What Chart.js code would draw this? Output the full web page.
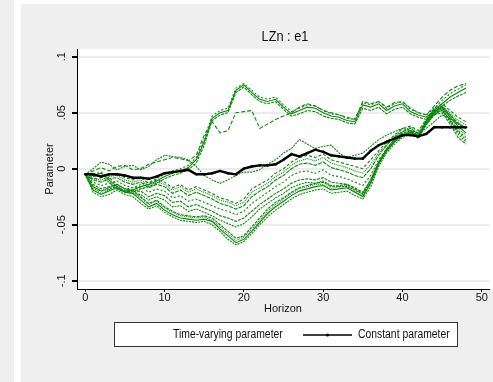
<!DOCTYPE html>
<html>
<head>
<meta charset="utf-8">
<script src="https://cdn.jsdelivr.net/npm/chart.js@4.4.1/dist/chart.umd.min.js"></script>
<style>
  html, body { margin: 0; padding: 0; background: #fff; }
  #wrap { width: 493px; height: 382px; }
</style>
</head>
<body>
<div id="wrap"><canvas id="c" width="493" height="382"></canvas></div>
<script>
// horizon (x) and tick labels
const horizon = [0,1,2,3,4,5,6,7,8,9,10,11,12,13,14,15,16,17,18,19,20,21,22,23,24,25,26,27,28,29,30,31,32,33,34,35,36,37,38,39,40,41,42,43,44,45,46,47,48];
const xTicks = [0, 10, 20, 30, 40, 50];
const yTicks = [-0.1, -0.05, 0, 0.05, 0.1];
const yTickLabels = ['-.1', '-.05', '0', '.05', '.1'];

// constant parameter (black)
const constantParam = [-0.005,-0.005,-0.007,-0.005,-0.005,-0.006,-0.008,-0.008,-0.009,-0.007,-0.004,-0.003,-0.002,-0.001,-0.005,-0.005,-0.004,-0.002,-0.004,-0.005,0.000,0.002,0.003,0.003,0.004,0.008,0.013,0.011,0.014,0.017,0.015,0.012,0.011,0.010,0.009,0.009,0.016,0.021,0.024,0.027,0.030,0.030,0.029,0.031,0.037,0.037,0.037,0.037,0.037];

// time-varying parameter (green), one array per estimation window
const tvpHigh1 = [-0.005,-0.006,-0.004,-0.010,-0.016,-0.020,-0.019,-0.016,-0.014,-0.011,-0.007,-0.004,-0.002,0.001,0.008,0.024,0.045,0.050,0.052,0.070,0.075,0.068,0.062,0.060,0.062,0.055,0.049,0.052,0.055,0.054,0.050,0.047,0.046,0.043,0.042,0.057,0.055,0.058,0.052,0.056,0.058,0.051,0.048,0.046,0.052,0.058,0.064,0.068,0.072];
const tvpHigh2 = [-0.005,-0.007,-0.006,-0.012,-0.018,-0.021,-0.020,-0.018,-0.016,-0.013,-0.009,-0.006,-0.004,-0.001,0.005,0.021,0.043,0.048,0.050,0.068,0.073,0.066,0.060,0.058,0.060,0.053,0.047,0.049,0.052,0.051,0.047,0.045,0.044,0.041,0.040,0.054,0.052,0.055,0.049,0.053,0.055,0.049,0.046,0.044,0.050,0.056,0.061,0.065,0.068];
const tvpHigh3 = [-0.005,-0.005,-0.003,-0.008,-0.014,-0.018,-0.017,-0.014,-0.012,-0.009,-0.005,-0.002,0.000,0.003,0.010,0.027,0.047,0.052,0.054,0.072,0.076,0.070,0.064,0.062,0.064,0.057,0.051,0.054,0.057,0.056,0.052,0.049,0.048,0.045,0.044,0.059,0.057,0.060,0.054,0.058,0.060,0.053,0.050,0.048,0.054,0.061,0.067,0.071,0.075];
const tvpHigh4 = [-0.005,-0.002,0.001,-0.002,0.002,0.003,-0.001,0.000,0.004,0.006,0.008,0.010,0.009,0.007,0.012,0.030,0.042,0.032,0.034,0.050,0.051,0.052,0.036,0.040,0.044,0.047,0.050,0.055,0.058,0.056,0.052,0.050,0.048,0.046,0.044,0.060,0.058,0.060,0.055,0.059,0.060,0.054,0.050,0.048,0.056,0.064,0.070,0.074,0.076];
const tvpNear = [-0.005,0.000,0.006,0.004,-0.001,0.002,0.003,-0.001,0.002,0.008,0.012,0.011,0.010,0.008,0.002,-0.006,-0.010,-0.013,-0.010,-0.006,-0.003,-0.003,-0.001,0.004,0.008,0.014,0.018,0.026,0.022,0.018,0.020,0.021,0.014,0.010,0.012,0.014,0.020,0.026,0.030,0.033,0.036,0.034,0.032,0.036,0.042,0.048,0.045,0.040,0.036];
const tvpMid1 = [-0.005,-0.009,-0.008,-0.005,-0.004,-0.008,-0.010,-0.008,-0.013,-0.010,-0.012,-0.017,-0.014,-0.019,-0.016,-0.019,-0.022,-0.026,-0.028,-0.031,-0.027,-0.018,-0.014,-0.010,-0.004,0.000,0.006,0.010,0.012,0.010,0.013,0.008,0.006,0.004,0.002,0.000,0.008,0.016,0.024,0.030,0.036,0.038,0.034,0.044,0.054,0.058,0.052,0.046,0.042];
const tvpMid6 = [-0.005,-0.009,-0.010,-0.007,-0.006,-0.010,-0.012,-0.010,-0.015,-0.012,-0.014,-0.019,-0.016,-0.021,-0.018,-0.021,-0.024,-0.028,-0.030,-0.033,-0.030,-0.021,-0.017,-0.013,-0.007,-0.003,0.003,0.007,0.009,0.007,0.010,0.005,0.003,0.001,-0.002,-0.004,0.004,0.014,0.022,0.029,0.034,0.037,0.032,0.043,0.053,0.056,0.050,0.043,0.039];
const tvpMid2 = [-0.005,-0.010,-0.012,-0.009,-0.008,-0.012,-0.014,-0.012,-0.017,-0.014,-0.016,-0.022,-0.019,-0.024,-0.021,-0.024,-0.027,-0.031,-0.033,-0.036,-0.033,-0.025,-0.020,-0.016,-0.010,-0.006,0.000,0.004,0.005,0.003,0.006,0.001,-0.001,-0.003,-0.006,-0.008,0.000,0.012,0.021,0.028,0.033,0.036,0.031,0.043,0.052,0.054,0.048,0.040,0.036];
const tvpMid3 = [-0.005,-0.012,-0.015,-0.013,-0.011,-0.015,-0.017,-0.016,-0.021,-0.018,-0.020,-0.026,-0.024,-0.029,-0.027,-0.030,-0.033,-0.036,-0.038,-0.041,-0.038,-0.031,-0.026,-0.021,-0.016,-0.012,-0.006,-0.003,-0.002,-0.004,-0.001,-0.006,-0.007,-0.009,-0.012,-0.015,-0.006,0.008,0.018,0.026,0.031,0.034,0.029,0.042,0.050,0.052,0.044,0.034,0.028];
const tvpMid4 = [-0.005,-0.014,-0.018,-0.016,-0.014,-0.018,-0.020,-0.020,-0.025,-0.022,-0.024,-0.030,-0.029,-0.034,-0.032,-0.035,-0.038,-0.042,-0.044,-0.047,-0.044,-0.038,-0.032,-0.027,-0.022,-0.018,-0.013,-0.010,-0.009,-0.010,-0.008,-0.012,-0.013,-0.014,-0.017,-0.021,-0.010,0.006,0.017,0.025,0.030,0.032,0.028,0.040,0.048,0.050,0.040,0.028,0.022];
const tvpMid5 = [-0.005,-0.016,-0.020,-0.018,-0.016,-0.020,-0.022,-0.023,-0.028,-0.025,-0.028,-0.034,-0.033,-0.038,-0.036,-0.039,-0.042,-0.046,-0.049,-0.052,-0.049,-0.043,-0.036,-0.031,-0.026,-0.022,-0.017,-0.014,-0.012,-0.013,-0.011,-0.015,-0.016,-0.016,-0.019,-0.023,-0.012,0.005,0.016,0.024,0.029,0.032,0.028,0.040,0.049,0.052,0.042,0.031,0.024];
const tvpLow1 = [-0.005,-0.019,-0.023,-0.020,-0.017,-0.021,-0.022,-0.028,-0.034,-0.031,-0.037,-0.041,-0.044,-0.045,-0.046,-0.045,-0.047,-0.054,-0.060,-0.066,-0.063,-0.056,-0.048,-0.040,-0.034,-0.029,-0.024,-0.020,-0.018,-0.016,-0.015,-0.019,-0.018,-0.017,-0.021,-0.025,-0.013,0.004,0.016,0.024,0.030,0.033,0.029,0.041,0.050,0.055,0.046,0.038,0.032];
const tvpLow2 = [-0.005,-0.016,-0.020,-0.017,-0.014,-0.018,-0.019,-0.025,-0.031,-0.028,-0.034,-0.038,-0.041,-0.042,-0.043,-0.042,-0.044,-0.050,-0.056,-0.062,-0.060,-0.052,-0.044,-0.036,-0.030,-0.026,-0.021,-0.017,-0.015,-0.013,-0.012,-0.016,-0.015,-0.014,-0.018,-0.022,-0.010,0.006,0.018,0.026,0.032,0.034,0.030,0.042,0.051,0.056,0.048,0.041,0.036];
const tvpLow3 = [-0.005,-0.021,-0.025,-0.023,-0.019,-0.023,-0.025,-0.031,-0.036,-0.033,-0.039,-0.043,-0.046,-0.047,-0.048,-0.047,-0.050,-0.056,-0.063,-0.068,-0.065,-0.058,-0.050,-0.043,-0.037,-0.032,-0.027,-0.023,-0.021,-0.019,-0.018,-0.022,-0.021,-0.020,-0.024,-0.027,-0.016,0.002,0.014,0.022,0.028,0.031,0.027,0.039,0.048,0.053,0.043,0.033,0.026];
const tvpLow4 = [-0.005,-0.017,-0.022,-0.019,-0.016,-0.020,-0.021,-0.026,-0.032,-0.029,-0.035,-0.039,-0.042,-0.043,-0.044,-0.043,-0.046,-0.052,-0.058,-0.064,-0.061,-0.054,-0.046,-0.038,-0.032,-0.027,-0.022,-0.018,-0.016,-0.014,-0.014,-0.018,-0.016,-0.015,-0.020,-0.024,-0.012,0.005,0.017,0.025,0.031,0.033,0.029,0.041,0.049,0.054,0.044,0.036,0.030];

const timeVarying = [tvpHigh1, tvpHigh2, tvpHigh3, tvpHigh4, tvpNear, tvpMid1, tvpMid6, tvpMid2, tvpMid3, tvpMid4, tvpMid5, tvpLow1, tvpLow2, tvpLow3, tvpLow4];
const dashes = [[], [3, 1], [2, 2], [4, 2], [2, 1], [3, 2], [1, 1], [4, 1], [2, 2], [3, 1], [2, 1], [], [3, 1], [2, 1], [1, 1]];

const GREEN = 'rgb(10,135,10)';
const FONT = '"Liberation Sans Narrow", "Liberation Sans", Arial, sans-serif';

const toPoints = arr => arr.map((v, i) => ({ x: horizon[i], y: v }));

const datasets = [{
  label: 'Constant parameter',
  data: toPoints(constantParam),
  borderColor: '#000',
  backgroundColor: '#000',
  borderWidth: 2.4,
  pointRadius: 1.3,
  pointBorderWidth: 0,
  tension: 0
}];
timeVarying.forEach((arr, k) => {
  datasets.push({
    label: 'Time-varying parameter',
    data: toPoints(arr),
    borderColor: GREEN,
    borderWidth: 1.1,
    borderDash: dashes[k],
    pointRadius: 0,
    tension: 0
  });
});

// narrow text, like the Stata export
function narrowText(ctx, text, x, y, align, sx) {
  ctx.save();
  ctx.translate(x, y);
  ctx.scale(sx, 1);
  ctx.textAlign = align;
  ctx.textBaseline = 'middle';
  ctx.fillText(text, 0, 0);
  ctx.restore();
}

// page background, plot region, title and the boxed legend
const frame = {
  id: 'frame',
  beforeDraw(chart) {
    const { ctx, chartArea: a } = chart;
    ctx.save();
    ctx.fillStyle = '#fff';
    ctx.fillRect(0, 0, 493, 382);
    ctx.fillStyle = '#efefef';
    ctx.fillRect(0, 0, 14, 382);
    ctx.fillRect(21, 4, 472, 378);
    ctx.fillStyle = '#fff';
    ctx.fillRect(a.left, a.top, 493 - a.left, a.bottom - a.top);
    ctx.restore();
  },
  afterDraw(chart) {
    const { ctx } = chart;
    ctx.save();
    ctx.fillStyle = '#111';
    ctx.font = '15px ' + FONT;
    narrowText(ctx, 'LZn : e1', 285, 37, 'center', 0.85);

    // legend
    ctx.fillStyle = '#fff';
    ctx.fillRect(114, 322, 343, 25);
    ctx.strokeStyle = '#333';
    ctx.lineWidth = 1;
    ctx.strokeRect(114.5, 322.5, 343, 24);
    ctx.fillStyle = '#111';
    ctx.font = '12.5px ' + FONT;
    narrowText(ctx, 'Time-varying parameter', 173, 335, 'left', 0.83);
    narrowText(ctx, 'Constant parameter', 358, 335, 'left', 0.83);
    ctx.strokeStyle = '#000';
    ctx.lineWidth = 1.3;
    ctx.beginPath();
    ctx.moveTo(303, 335);
    ctx.lineTo(352, 335);
    ctx.stroke();
    ctx.fillStyle = '#000';
    ctx.beginPath();
    ctx.arc(327.5, 335, 1.5, 0, Math.PI * 2);
    ctx.fill();
    ctx.restore();
  }
};

new Chart(document.getElementById('c'), {
  type: 'line',
  data: { datasets },
  plugins: [frame],
  options: {
    responsive: false,
    animation: false,
    events: [],
    layout: { padding: { left: 39, top: 49, right: 0, bottom: 62 } },
    plugins: { legend: { display: false }, tooltip: { enabled: false } },
    scales: {
      x: {
        type: 'linear',
        min: -1.036,
        max: 50.91,
        afterBuildTicks: s => { s.ticks = xTicks.map(v => ({ value: v })); },
        afterFit: s => { s.height = 31; },
        grid: { drawOnChartArea: false, tickColor: '#000', tickLength: 3 },
        border: { color: '#000', width: 1 },
        ticks: { color: '#111', font: { family: FONT, size: 11, lineHeight: 1 }, padding: 0, maxRotation: 0 },
        title: { display: true, text: 'Horizon', color: '#111', font: { family: FONT, size: 11 }, padding: { top: 0, bottom: 4 } }
      },
      y: {
        min: -0.1074,
        max: 0.1069,
        afterBuildTicks: s => { s.ticks = yTicks.map(v => ({ value: v })); },
        afterFit: s => { s.width = 38; },
        grid: { color: '#ececec', lineWidth: 2, tickColor: '#000', tickLength: 5 },
        border: { color: '#000', width: 1 },
        ticks: {
          color: '#111',
          font: { family: FONT, size: 11 },
          minRotation: 90,
          maxRotation: 90,
          crossAlign: 'center',
          padding: 1,
          callback: v => yTickLabels[yTicks.indexOf(v)]
        },
        title: { display: true, text: 'Parameter', color: '#111', font: { family: FONT, size: 11 }, padding: { top: 4, bottom: 0 } }
      }
    }
  }
});
</script>
</body>
</html>
